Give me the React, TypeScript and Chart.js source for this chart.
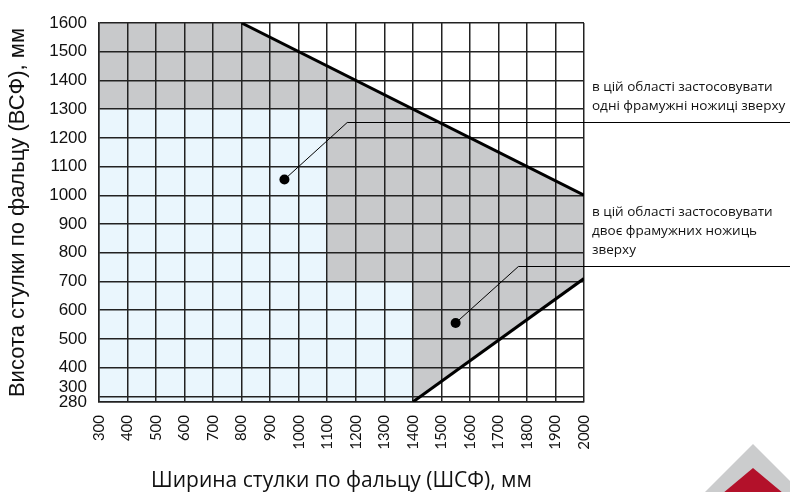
import React, { useEffect, useRef } from 'react';
import { Chart, registerables } from 'chart.js';

Chart.register(...registerables);

// ---- axes ----
const xTicks = [300, 400, 500, 600, 700, 800, 900, 1000, 1100, 1200, 1300, 1400, 1500, 1600, 1700, 1800, 1900, 2000];
const yTicks = [280, 300, 400, 500, 600, 700, 800, 900, 1000, 1100, 1200, 1300, 1400, 1500, 1600];
const xMin = 300;
const xMax = 2000;
const yMin = 280;
const yMax = 1600;

// ---- zones (polygon vertices, mm) ----
const singleShearZoneX = [300, 300, 1100, 1100, 1400, 1400];
const singleShearZoneY = [280, 1300, 1300, 700, 700, 280];
const doubleShearZoneX = [300, 300, 800, 2000, 2000, 1400, 1400, 1100, 1100];
const doubleShearZoneY = [1300, 1600, 1600, 1000, 710, 280, 700, 700, 1300];

// ---- limit lines ----
const upperLimitX = [800, 2000];
const upperLimitY = [1600, 1000];
const lowerLimitX = [1400, 2000];
const lowerLimitY = [280, 710];

// ---- annotation markers ----
const markerX = [950, 1550];
const markerY = [1055, 555];
const elbowX = [1170, 1770];
const elbowY = [1255, 754];
const noteTexts = [
  ['в цій області застосовувати', 'одні фрамужні ножиці зверху'],
  ['в цій області застосовувати', 'двоє фрамужних ножиць', 'зверху'],
];

const xTitle = 'Ширина стулки по фальцу (ШСФ), мм';
const yTitle = 'Висота стулки по фальцу (ВСФ), мм';

const pts = (xs: number[], ys: number[]) => xs.map((x, i) => ({ x, y: ys[i] }));

const notesPlugin = {
  id: 'notes',
  afterDatasetsDraw(chart: any) {
    const { ctx, scales, chartArea } = chart;
    const sx = scales.x;
    const sy = scales.y;
    ctx.save();
    for (let i = 0; i < markerX.length; i++) {
      const mx = sx.getPixelForValue(markerX[i]);
      const my = sy.getPixelForValue(markerY[i]);
      const ex = sx.getPixelForValue(elbowX[i]);
      const ey = Math.round(sy.getPixelForValue(elbowY[i])) + 0.5;
      ctx.beginPath();
      ctx.strokeStyle = '#000';
      ctx.lineWidth = 1;
      ctx.moveTo(mx, my);
      ctx.lineTo(ex, ey);
      ctx.lineTo(chart.width, ey);
      ctx.stroke();
      const lines = noteTexts[i];
      ctx.fillStyle = '#111';
      ctx.font = '13.5px "Open Sans"';
      ctx.textAlign = 'left';
      ctx.textBaseline = 'middle';
      const tx = chartArea.right + 8;
      for (let j = 0; j < lines.length; j++) {
        const ty = ey - 16 - (lines.length - 1 - j) * 19;
        ctx.fillText(lines[j], tx, ty);
      }
    }
    ctx.restore();
  },
};

const logoPlugin = {
  id: 'logo',
  afterDraw(chart: any) {
    const { ctx } = chart;
    const h = chart.height;
    ctx.save();
    ctx.fillStyle = '#cbcccd';
    ctx.beginPath();
    ctx.moveTo(753, 444);
    ctx.lineTo(753 + 70, h + 22);
    ctx.lineTo(753 - 70, h + 22);
    ctx.closePath();
    ctx.fill();
    ctx.fillStyle = '#b3112a';
    ctx.beginPath();
    ctx.moveTo(753, 468);
    ctx.lineTo(753 + 55, h + 22);
    ctx.lineTo(753 - 55, h + 22);
    ctx.closePath();
    ctx.fill();
    ctx.restore();
  },
};

export default function App() {
  const ref = useRef<HTMLCanvasElement | null>(null);

  useEffect(() => {
    if (!ref.current) return;
    const gridColor = '#222';
    const chart = new Chart(ref.current, {
      type: 'scatter',
      data: {
        datasets: [
          {
            data: pts(singleShearZoneX, singleShearZoneY),
            showLine: true,
            fill: 'shape',
            backgroundColor: '#eaf6fd',
            borderWidth: 0,
            pointRadius: 0,
          },
          {
            data: pts(doubleShearZoneX, doubleShearZoneY),
            showLine: true,
            fill: 'shape',
            backgroundColor: '#c8c9cb',
            borderWidth: 0,
            pointRadius: 0,
          },
          {
            data: pts(upperLimitX, upperLimitY),
            showLine: true,
            fill: false,
            borderColor: '#000',
            borderWidth: 3,
            pointRadius: 0,
          },
          {
            data: pts(lowerLimitX, lowerLimitY),
            showLine: true,
            fill: false,
            borderColor: '#000',
            borderWidth: 3,
            pointRadius: 0,
          },
          {
            data: pts(markerX, markerY),
            showLine: false,
            fill: false,
            backgroundColor: '#000',
            borderWidth: 0,
            pointRadius: 5,
          },
        ] as any,
      },
      options: {
        responsive: true,
        maintainAspectRatio: false,
        animation: false,
        events: [],
        layout: { padding: { top: 23, right: 206, left: 0, bottom: 0 } },
        plugins: {
          legend: { display: false },
          tooltip: { enabled: false },
          filler: { drawTime: 'beforeDraw' },
        } as any,
        scales: {
          x: {
            type: 'linear',
            min: xMin,
            max: xMax,
            afterBuildTicks: (s: any) => {
              s.ticks = xTicks.map((v) => ({ value: v }));
            },
            afterFit: (s: any) => {
              s.height = 90;
            },
            grid: { color: gridColor, lineWidth: 1.5, drawTicks: false },
            border: { color: gridColor, width: 1.5 },
            ticks: {
              autoSkip: false,
              minRotation: 90,
              maxRotation: 90,
              padding: 13,
              color: '#111',
              font: { family: 'Lato', size: 15 },
              callback: (v: any) => String(v),
            },
            title: {
              display: true,
              text: xTitle,
              color: '#111',
              font: { family: '"Open Sans"', size: 21, lineHeight: 1 },
              padding: { top: 0, bottom: 0 },
            },
          },
          y: {
            type: 'linear',
            min: yMin,
            max: yMax,
            afterBuildTicks: (s: any) => {
              s.ticks = yTicks.map((v) => ({ value: v }));
            },
            afterFit: (s: any) => {
              s.width = 99;
            },
            grid: { color: gridColor, lineWidth: 1.5, drawTicks: false },
            border: { color: gridColor, width: 1.5 },
            ticks: {
              autoSkip: false,
              padding: 12,
              color: '#111',
              font: { family: '"Liberation Sans", Arial', size: 17, lineHeight: 1 },
              callback: (v: any) => (v === 300 ? ['300', ''] : String(v)),
            },
            title: {
              display: true,
              text: yTitle,
              color: '#111',
              font: { family: '"Liberation Sans", Arial', size: 22, lineHeight: 1 },
              padding: { top: 7, bottom: 0 },
            },
          },
        },
      } as any,
      plugins: [notesPlugin, logoPlugin],
    });
    return () => chart.destroy();
  }, []);

  return (
    <div style={{ position: 'absolute', left: 0, top: 0, width: 790, height: 492 }}>
      <canvas ref={ref} />
    </div>
  );
}
